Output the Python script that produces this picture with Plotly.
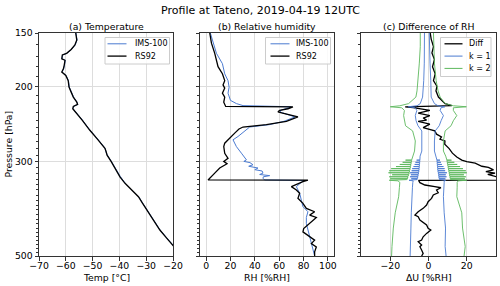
import plotly.graph_objects as go
import math

# ---------------- data ----------------
# (a) Temperature
p_T = [150, 155.8, 160, 164, 167.4, 168.9, 172.4, 173.8, 178.6, 182, 185.2, 186.9, 188.6, 194,
       200.9, 206.4, 212, 217.9, 220.6, 223, 225.8, 240, 253.3, 266, 279.6, 284, 287.2, 290, 300,
       313, 326, 337.7, 350, 363, 376, 390, 412, 434.6, 452, 471, 490, 500]
T_rs92 = [-56.3, -55.9, -56.6, -58.0, -59.7, -61.3, -61.5, -60.3, -60.6, -60.9, -61.5, -60.9, -60.0, -59.1,
          -58.8, -58.0, -57.2, -55.9, -55.6, -57.2, -57.4, -53.9, -51.1, -48.2, -45.4, -45.0, -44.7, -44.6, -43.1,
          -41.5, -39.8, -37.9, -35.3, -32.9, -31.4, -29.8, -27.3, -24.9, -22.6, -20.3, -17.6, -16.6]
T_ims = [-56.2, -55.8, -56.5, -57.9, -59.6, -61.2, -61.4, -60.2, -60.5, -60.8, -61.4, -60.8, -59.9, -59.0,
         -58.7, -57.9, -57.1, -55.8, -55.5, -57.1, -57.3, -53.8, -51.0, -48.1, -45.3, -45.1, -44.9, -44.5, -43.0,
         -41.3, -39.6, -37.8, -35.2, -32.8, -31.3, -29.7, -27.2, -24.8, -22.5, -20.2, -17.5, -16.5]

# (b) Relative humidity
p_rh_rs92 = [150, 158.5, 167.4, 173.8, 179.9, 186.9, 194, 198.5, 202, 207.6, 212, 217.9, 223, 223.4,
             225.8, 227.9, 229.5, 231, 236, 241.6, 246, 249.2, 251.9, 257.5, 264.6, 271.9, 276.9, 287.3,
             295, 300, 303.9, 311, 319.6, 328.5, 331.6, 332, 334.6, 343.8, 350, 356.4, 366.2, 376.3,
             386.6, 393.7, 400.9, 406, 415.8, 431, 439, 451, 459.1, 467.5, 476, 489, 500]
rh_rs92 = [3.0, 4.4, 7.1, 8.5, 9.8, 13.4, 15.3, 13.9, 15.3, 13.4, 15.3, 14.5, 16.1, 71.3,
           67.2, 60.4, 59.0, 62.0, 75.4, 65.9, 49.5, 30.3, 27.0, 23.5, 19.4, 15.3, 14.5, 15.3,
           18.0, 14.5, 17.2, 11.2, 7.1, 3.0, 1.6, 83.6, 79.5, 70.0, 74.1, 76.8, 75.4, 79.5,
           82.3, 89.1, 85.0, 90.5, 86.4, 80.1, 79.5, 85.0, 89.1, 86.4, 90.5, 89.1, 89.1]
p_rh_ims = [150, 158.5, 167.4, 177, 187, 194, 201, 207.6, 215.8, 219.6, 222, 223.4, 225.8, 227.9,
            230, 236, 241.6, 246, 249.2, 253.3, 262.3, 267, 272, 277, 287, 297.5, 300, 302, 305.5,
            308, 311, 313.7, 316, 319.6, 322, 324, 326, 328.5, 331.6, 332.5, 343.8, 356.4, 370,
            383, 393.7, 406, 419.6, 435, 451, 467.5, 485, 500]
rh_ims = [3.5, 5.7, 8.5, 13.4, 15.3, 18.0, 18.9, 18.0, 20.0, 24.9, 30.3, 70.0, 66.0, 61.0,
          61.0, 73.0, 64.0, 52.0, 35.8, 33.0, 26.2, 22.1, 23.5, 24.9, 29.0, 33.1, 31.0, 36.0, 38.5,
          35.0, 42.6, 40.0, 46.0, 46.7, 44.0, 52.2, 47.0, 46.7, 48.0, 80.0, 74.1, 76.8, 78.2,
          79.5, 83.6, 82.3, 82.3, 83.6, 85.0, 86.4, 87.7, 89.1]

# (c) Difference of RH (IMS-100 minus RS92) and uncertainty envelopes
p_diff = [150, 155, 161.5, 167, 173, 180, 187, 194, 200, 205, 212, 216, 219.6, 222, 223.6, 224.5,
          227.9, 231.3, 234.3, 237.4, 240, 241.8, 245.3, 250, 254.5, 259, 262.9, 266.2, 268.7, 273.5,
          280, 287, 293, 298, 300.5, 303, 308, 310, 314, 317, 319.6, 322, 326, 330, 331.8, 332.5,
          336.5, 340.8, 344, 345.9, 350.2, 355.3, 359.7, 366.3, 373, 379.7, 386.6, 393.7, 400.8,
          404.5, 411.8, 417.9, 423, 430.7, 434.6, 442.5, 450.7, 458.7, 462.9, 471.3, 475.6, 484.2,
          493, 500]
diff = [0.9, 1.4, 2.6, 1.8, 3.1, 2.1, 3.5, 2.6, 4.4, 3.9, 5.2, 7.0, 8.7, 12.2, -12.2, -8.0,
        0.7, -5.4, 0.7, -2.8, -1.0, -5.4, 0.7, -2.8, 3.3, 4.2, 6.8, 6.0, 8.6, 8.5,
        10.8, 12.5, 14.8, 17.4, 20.0, 24.4, 27.9, 31.3, 34.0, 30.0, 34.8, 31.0, 36.0, 40.0, 45.0, -5.2,
        -4.5, -1.9, 3.3, 6.5, 4.2, 5.1, 2.5, 1.6, -0.2, -1.0, -2.8, -5.4, -7.1,
        -5.4, -4.5, -2.8, -1.0, -0.2, 1.2, -1.0, -2.8, -3.6, -5.4, -3.6, -4.5, -3.6,
        -2.8, -3.6]

p_unc = [150, 161.5, 176.5, 194, 205, 212, 219.6, 222.2, 223.4, 224.6, 227.9, 234.3, 240.8, 247.5,
         254.5, 268.7, 283.7, 291.6, 296,
         297.7, 298, 298.3, 301.2, 301.5, 301.8, 304.7, 305, 305.3, 308.2, 308.5, 308.8,
         311.7, 312, 312.3, 315.2, 315.5, 315.8, 318.7, 319, 319.3, 322.2, 322.5, 322.8,
         325.7, 326, 326.3, 329.2, 329.5, 329.8, 331,
         332.2, 333.2, 336, 345, 363, 396, 430, 475, 500]
k1_lo = [-2.1, -2.1, -2.2, -2.5, -2.8, -3.1, -4.3, -6.0, -10.6, -7.0, -6.1, -6.9, -6.5, -5.5,
         -3.5, -3.5, -3.5, -4.4, -4.6,
         -4.5, -6.2, -4.5, -4.6, -6.8, -4.6, -4.7, -7.2, -4.7, -4.8, -7.8, -4.8,
         -4.9, -8.5, -4.9, -5.0, -8.8, -5.0, -5.2, -9.6, -5.2, -5.4, -9.2, -5.4,
         -5.6, -9.6, -5.6, -5.8, -9.0, -5.8, -6.0,
         -10.2, -8.0, -8.2, -8.4, -8.7, -9.0, -9.2, -9.6, -9.6]
k1_hi = [0.4, 0.5, 0.8, 1.2, 1.4, 1.4, 3.1, 5.0, 8.6, 6.5, 6.1, 7.8, 6.6, 5.6,
         3.5, 3.1, 3.1, 4.0, 4.4,
         4.4, 6.0, 4.4, 4.5, 6.5, 4.5, 4.6, 7.0, 4.6, 4.7, 7.8, 4.7,
         4.8, 8.4, 4.8, 4.9, 8.7, 4.9, 5.1, 9.6, 5.1, 5.3, 9.0, 5.3,
         5.4, 9.4, 5.4, 5.6, 8.8, 5.6, 5.8,
         9.0, 8.2, 8.2, 8.0, 7.8, 8.2, 8.9, 8.7, 9.2]
k2_lo = [-4.3, -4.3, -4.8, -5.4, -6.0, -6.6, -10.4, -15.0, -20.0, -14.0, -12.6, -13.0, -12.6, -12.0,
         -8.3, -6.9, -7.3, -8.3, -8.7,
         -8.8, -12.0, -8.8, -9.0, -13.5, -9.0, -9.2, -15.0, -9.2, -9.4, -17.0, -9.4,
         -9.6, -19.5, -9.6, -9.9, -20.5, -9.9, -10.1, -20.9, -10.1, -10.4, -19.0, -10.4,
         -10.8, -20.5, -10.8, -11.0, -20.0, -11.0, -11.5,
         -20.5, -16.0, -15.0, -15.2, -15.6, -17.4, -18.4, -19.1, -19.3]
k2_hi = [2.6, 2.8, 3.1, 4.0, 5.0, 6.1, 8.7, 13.0, 19.8, 13.0, 13.0, 14.8, 13.0, 11.8,
         8.7, 7.8, 7.8, 9.0, 9.6,
         9.6, 12.0, 9.6, 9.8, 13.5, 9.8, 10.0, 15.0, 10.0, 10.2, 16.5, 10.2,
         10.4, 18.0, 10.4, 10.6, 19.5, 10.6, 10.8, 20.0, 10.8, 11.0, 18.5, 11.0,
         11.2, 19.5, 11.2, 11.4, 19.0, 11.4, 11.6,
         20.0, 15.5, 15.0, 15.0, 14.8, 17.4, 17.8, 19.2, 18.6]

y_ticks = [150, 200, 300, 500]
y_minor = [v for v in range(160, 500, 10) if v not in (200, 300)]
xa_ticks = [-70, -60, -50, -40, -30, -20]
xb_ticks = [0, 20, 40, 60, 80, 100]
xc_ticks = [-20, 0, 20]

# ---------------- figure ----------------
BLUE = '#4b7bd1'
GREEN = '#5cb85c'
BLACK = '#000000'
FONT = 'DejaVu Sans'
W, H = 500, 286

fig = go.Figure()

def line(x, y, color, width, xa, ya):
    fig.add_trace(go.Scatter(x=x, y=y, mode='lines', line=dict(color=color, width=width),
                             xaxis=xa, yaxis=ya, showlegend=False, hoverinfo='x+y'))

# panel a
line(T_ims, p_T, BLUE, 1, 'x', 'y')
line(T_rs92, p_T, BLACK, 1.3, 'x', 'y')
# panel b
line(rh_ims, p_rh_ims, BLUE, 1, 'x2', 'y2')
line(rh_rs92, p_rh_rs92, BLACK, 1.3, 'x2', 'y2')
# panel c
line(diff, p_diff, BLACK, 1.3, 'x3', 'y3')
line(k1_lo, p_unc, BLUE, 0.9, 'x3', 'y3')
line(k1_hi, p_unc, BLUE, 0.9, 'x3', 'y3')
line(k2_lo, p_unc, GREEN, 0.9, 'x3', 'y3')
line(k2_hi, p_unc, GREEN, 0.9, 'x3', 'y3')

ydom = [1 - 256 / H, 1 - 33 / H]
axis_common = dict(showline=True, mirror=True, linecolor='#333333', linewidth=1,
                   ticks='outside', ticklen=3.5, tickwidth=1, tickcolor='#333333',
                   showgrid=True, gridcolor='#dddddd', gridwidth=1, zeroline=False,
                   automargin=False,
                   tickfont=dict(size=9.3, color='black', family=FONT))
xaxis_extra = dict(ticklabelstandoff=-3)

yrange = [math.log10(500), math.log10(150)]
def yaxis(anchor, labels):
    return dict(axis_common, type='log', range=yrange, autorange=False, domain=ydom, anchor=anchor,
                tickmode='array', tickvals=y_ticks, ticktext=[str(v) for v in y_ticks],
                showticklabels=labels,
                minor=dict(tickvals=y_minor, ticks='outside', ticklen=2, tickcolor='#333333', showgrid=False))

fig.update_layout(
    width=W, height=H, margin=dict(l=0, r=0, t=0, b=0, autoexpand=False),
    template='none',
    paper_bgcolor='white', plot_bgcolor='white',
    font=dict(family=FONT, color='black', size=9.3),
    xaxis=dict(axis_common, **xaxis_extra, domain=[39 / W, 173 / W], range=[-70, -20], anchor='y',
               tickmode='array', tickvals=xa_ticks, ticktext=['−70', '−60', '−50', '−40', '−30', '−20']),
    xaxis2=dict(axis_common, **xaxis_extra, domain=[200 / W, 334 / W], range=[-5, 105], anchor='y2',
                tickmode='array', tickvals=xb_ticks, ticktext=[str(v) for v in xb_ticks]),
    xaxis3=dict(axis_common, **xaxis_extra, domain=[361 / W, 496 / W], range=[-35.3, 35.3], anchor='y3',
                tickmode='array', tickvals=xc_ticks, ticktext=['−20', '0', '20']),
    yaxis=yaxis('x', True),
    yaxis2=dict(yaxis('x2', False), matches='y'),
    yaxis3=dict(yaxis('x3', False), matches='y'),
    showlegend=False,
)

shapes = []
ann = []

def px(x):
    return x / W

def py(y):
    return 1 - y / H

# legends drawn as boxes, line samples and labels
legend_specs = [
    ((105, 37.5, 169.5, 64), 107.5, 126.5, 132.5, [('IMS-100', BLUE), ('RS92', BLACK)]),
    ((265.5, 37.5, 330.5, 64), 270.5, 289.5, 293.5, [('IMS-100', BLUE), ('RS92', BLACK)]),
    ((440.5, 37.5, 491, 76.5), 444.5, 462.5, 467, [('Diff', BLACK), ('k = 1', BLUE), ('k = 2', GREEN)]),
]
for (bx0, by0, bx1, by1), lx0, lx1, tx, entries in legend_specs:
    shapes.append(dict(type='rect', xref='paper', yref='paper', x0=px(bx0), x1=px(bx1),
                       y0=py(by1), y1=py(by0), fillcolor='rgba(255,255,255,0.85)',
                       line=dict(color='#cccccc', width=1), layer='above'))
    for i, (lab, col) in enumerate(entries):
        yy = 43.8 + 12.3 * i
        shapes.append(dict(type='line', xref='paper', yref='paper', x0=px(lx0), x1=px(lx1),
                           y0=py(yy), y1=py(yy), line=dict(color=col, width=1.3 if col == BLACK else 1),
                           layer='above'))
        ann.append(dict(text=lab, x=px(tx), y=py(yy), xref='paper', yref='paper', showarrow=False,
                        xanchor='left', yanchor='middle', font=dict(size=8, family=FONT, color='black')))

ann.append(dict(text='Profile at Tateno, 2019-04-19 12UTC', x=260 / W, y=1 - 10 / H,
                xref='paper', yref='paper', showarrow=False, xanchor='center', yanchor='middle',
                font=dict(size=11, family=FONT, color='black')))
for txt, xc in [('(a) Temperature', 106), ('(b) Relative humidity', 267), ('(c) Difference of RH', 428.5)]:
    ann.append(dict(text=txt, x=xc / W, y=1 - 26.5 / H, xref='paper', yref='paper', showarrow=False,
                    xanchor='center', yanchor='middle', font=dict(size=9.3, family=FONT, color='black')))
for txt, xc in [('Temp [°C]', 106), ('RH [%RH]', 267), ('ΔU [%RH]', 428.5)]:
    ann.append(dict(text=txt, x=xc / W, y=1 - 277 / H, xref='paper', yref='paper', showarrow=False,
                    xanchor='center', yanchor='middle', font=dict(size=9.3, family=FONT, color='black')))
ann.append(dict(text='Pressure [hPa]', x=8 / W, y=1 - 144.5 / H, xref='paper', yref='paper',
                showarrow=False, textangle=-90, xanchor='center', yanchor='middle',
                font=dict(size=9.3, family=FONT, color='black')))
fig.update_layout(annotations=ann, shapes=shapes)

fig.write_html('out.html', config={'displayModeBar': False},
               post_script="document.body.style.margin='0';document.body.style.padding='0';")
